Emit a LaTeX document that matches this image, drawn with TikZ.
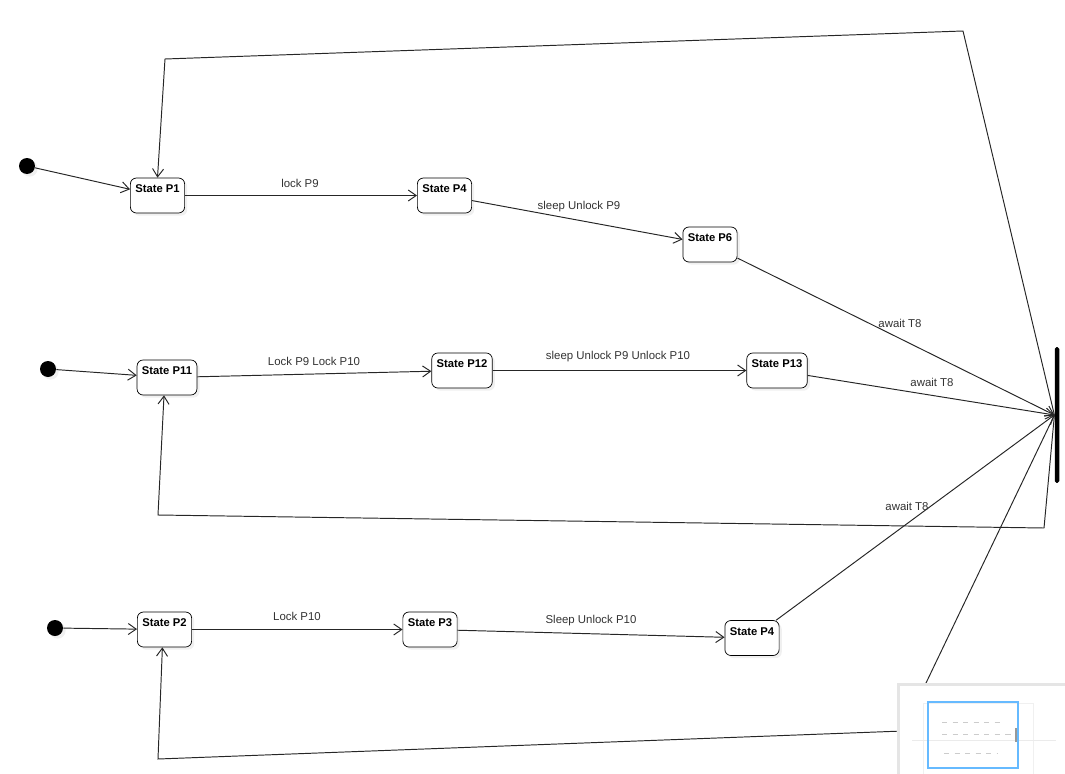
\documentclass[tikz,border=0pt]{standalone}
\usepackage{fontspec}
\setmainfont{Liberation Sans}
\usepackage{tikz}
\usetikzlibrary{arrows.meta,shadows}

\begin{document}
\begin{tikzpicture}[x=0.02cm, y=-0.02cm,
    state/.style={draw, rounded corners=3.4pt, fill=white, inner xsep=2.8pt, inner ysep=3.5pt,
        text height=5pt, text depth=7.9pt, font=\fontsize{6.4}{7.7}\selectfont\bfseries,
        drop shadow={shadow xshift=1.5pt, shadow yshift=-1.5pt, opacity=0.12}},
    init/.style={circle, fill, minimum size=0.32cm, inner sep=0,
        drop shadow={shadow xshift=1.5pt, shadow yshift=-1.5pt, opacity=0.12}},
    lbl/.style={text=black!80, font=\fontsize{6.5}{7.8}\selectfont, inner sep=0},
    trans/.style={line width=0.55pt, black!85, -{Straight Barb[length=1.6mm, width=2.2mm]}},
    back/.style={line width=0.55pt, black!85}]
\useasboundingbox (0,0) rectangle (1065,774);

% first row
\node[init] (I1) at (27,166) {};
\node[state] (P1) at (157.5,195.5) {State P1};
\node[state] (P4) at (444.5,195.5) {State P4};
\node[state] (P6) at (710,244.5) {State P6};

% second row
\node[init] (I2) at (48,369) {};
\node[state] (P11) at (167,377.5) {State P11};
\node[state] (P12) at (462,370.5) {State P12};
\node[state] (P13) at (777,370.5) {State P13};

% third row
\node[init] (I3) at (55,628) {};
\node[state] (P2) at (164.5,629.5) {State P2};
\node[state] (P3) at (430,629.5) {State P3};
\node[state] (P4b) at (752,638) {State P4};

% join bar
\node[fill=black, rounded corners=1pt, minimum width=0.09cm, minimum height=2.72cm, inner sep=0] (bar) at (1057,415) {};

\draw[trans] (I1) -- (P1);
\draw[trans] (P1) -- (P4);
\draw[trans] (P4) -- (P6);
\draw[trans] (P6) -- (bar.west);
\draw[trans] (I2) -- (P11);
\draw[trans] (P11) -- (P12);
\draw[trans] (P12) -- (P13);
\draw[trans] (P13) -- (bar.west);
\draw[trans] (I3) -- (P2);
\draw[trans] (P2) -- (P3);
\draw[trans] (P3) -- (P4b);
\draw[trans] (P4b) -- (bar.west);

% loops back
\draw[trans] (bar.west) -- (963,31) -- (165,59) -- (P1.north);
\draw[trans] (bar.west) -- (1044,528) -- (158,515) -- ([xshift=-1.7pt]P11.south);
\draw[trans] (bar.west) -- (903,731) -- (158,759) -- ([xshift=-1.2pt]P2.south);

\node[lbl] (t1) at (300,183) {lock P9};
\node[lbl] (t2) at (579,207) {sleep Unlock P9};
\node[lbl] (t3) at (900,323) {await T8};
\node[lbl] (t4) at (314,361) {Lock P9 Lock P10};
\node[lbl] (t5) at (618,357) {sleep Unlock P9 Unlock P10};
\node[lbl] (t6) at (932,382) {await T8};
\node[lbl] (t7) at (907,506) {await T8};
\node[lbl] (t8) at (297,616) {Lock P10};
\node[lbl] (t9) at (591,621) {Sleep Unlock P10};

% overview panel
\fill[black!10] (897,683) rectangle (1067,776);
\fill[white] (900,686) rectangle (1065,774);
\draw[black!6] (923,703) rectangle (1033,774);
\draw[black!8] (912,740) -- (1056,740);
\draw[black!20, dashed, line width=0.4pt] (942,722) -- (1000,722);
\draw[black!20, dashed, line width=0.4pt] (942,734) -- (1012,734);
\draw[black!20, dashed, line width=0.4pt] (944,753) -- (998,753);
\draw[black!40, line width=0.8pt] (1016,728) -- (1016,742);
\draw[blue!45!cyan!60!white, line width=1pt] (928,702) rectangle (1018,768);
\end{tikzpicture}
\end{document}
